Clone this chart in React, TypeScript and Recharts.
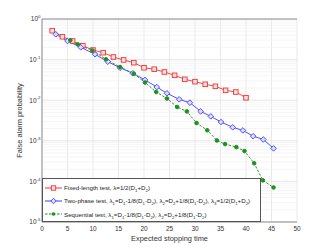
import React from "react";
import {
  CartesianGrid,
  Legend,
  Line,
  LineChart,
  ReferenceLine,
  XAxis,
  YAxis,
} from "recharts";

const fixedX = [2, 4, 6, 8, 10, 12, 14, 16, 18, 20, 22, 24, 26, 28, 30, 32, 34, 36, 38, 40];
const fixedP = [
  0.515, 0.366, 0.287, 0.22, 0.172, 0.148, 0.116, 0.098, 0.084, 0.063, 0.058, 0.0495, 0.041,
  0.0327, 0.0286, 0.0247, 0.022, 0.0175, 0.0159, 0.0115,
];

const twoPhaseX = [
  2.7, 5.0, 7.6, 10.4, 12.9, 15.3, 17.8, 20.2, 22.5, 24.5, 26.9, 29.0, 31.1, 33.1, 35.1, 37.4,
  39.4, 41.4, 43.4, 45.4,
];
const twoPhaseP = [
  0.42, 0.287, 0.201, 0.135, 0.0888, 0.063, 0.046, 0.0315, 0.0211, 0.0148, 0.0105, 0.0087,
  0.0053, 0.004, 0.0029, 0.00215, 0.0018, 0.0013, 0.00108, 0.00065,
];

const seqX = [
  5.55, 7.0, 9.9, 12.55, 15.3, 18.0, 20.2, 22.4, 24.5, 26.5, 28.4, 30.3, 32.4, 34.3, 35.9, 38.1,
  39.7, 41.6, 43.3, 45.4,
];
const seqP = [
  0.299, 0.238, 0.168, 0.1016, 0.0657, 0.045, 0.0273, 0.0159, 0.011, 0.0068, 0.0053, 0.00274,
  0.00182, 0.00102, 0.00083, 0.0007, 0.00056, 0.00028, 0.000106, 0.0000708,
];

const xTicks = [0, 5, 10, 15, 20, 25, 30, 35, 40, 45, 50];
const yTicks = [1e-5, 1e-4, 1e-3, 1e-2, 1e-1, 1];
const minorY = [-5, -4, -3, -2, -1].flatMap((e) =>
  [2, 3, 4, 5, 6, 7, 8, 9].map((k) => k * Math.pow(10, e))
);

const RED = "#f23333";
const BLUE = "#3c3cff";
const GREEN = "#1f8f1f";
const FONT = "'Liberation Sans', Arial, sans-serif";

const toRows = (xs: number[], ps: number[]) => xs.map((x, i) => ({ x, p: ps[i] }));

const SquareDot = (props: any) => {
  const { cx, cy, index } = props;
  if (cx == null || cy == null) return <g key={index} />;
  return (
    <rect key={index} x={cx - 2.3} y={cy - 2.3} width={4.6} height={4.6} fill="#fbdede" stroke={RED} strokeWidth={0.9} />
  );
};

const DiamondDot = (props: any) => {
  const { cx, cy, index } = props;
  if (cx == null || cy == null) return <g key={index} />;
  const r = 2.8;
  return (
    <path
      key={index}
      d={`M${cx},${cy - r}L${cx + r},${cy}L${cx},${cy + r}L${cx - r},${cy}Z`}
      fill="#dedeff"
      stroke={BLUE}
      strokeWidth={0.9}
    />
  );
};

const CircleDot = (props: any) => {
  const { cx, cy, index } = props;
  if (cx == null || cy == null) return <g key={index} />;
  return <circle key={index} cx={cx} cy={cy} r={1.8} fill={GREEN} stroke={GREEN} />;
};

const YTick = (props: any) => {
  const { x, y, payload } = props;
  const e = Math.round(Math.log10(payload.value));
  return (
    <text x={x - 1.5} y={y + 2.3} textAnchor="end" fontSize={6.5} fill="#333" fontFamily={FONT}>
      <tspan>10</tspan>
      <tspan dy={-3.2} fontSize={4.4}>
        {e}
      </tspan>
    </text>
  );
};

const XTick = (props: any) => {
  const { x, y, payload } = props;
  return (
    <text x={x} y={y + 8.6} textAnchor="middle" fontSize={6.5} fill="#333" fontFamily={FONT}>
      {payload.value}
    </text>
  );
};

const Sub = ({ c }: { c: string }) => (
  <sub style={{ fontSize: 4.3, verticalAlign: "-1.5px", lineHeight: 0 }}>{c}</sub>
);

const legendItems = [
  {
    color: RED,
    dash: "",
    marker: "square",
    text: (
      <>
        Fixed-length test, λ=1/2(D<Sub c="1" />+D<Sub c="2" />)
      </>
    ),
  },
  {
    color: BLUE,
    dash: "",
    marker: "diamond",
    text: (
      <>
        Two-phase test, λ<Sub c="1" />=D<Sub c="1" />-1/8(D<Sub c="1" />-D<Sub c="2" />), λ
        <Sub c="2" />=D<Sub c="2" />+1/8(D<Sub c="1" />-D<Sub c="2" />), λ<Sub c="3" />=1/2(D
        <Sub c="1" />+D<Sub c="2" />)
      </>
    ),
  },
  {
    color: GREEN,
    dash: "2.5 1.5",
    marker: "circle",
    text: (
      <>
        Sequential test, λ<Sub c="1" />=D<Sub c="1" />-1/8(D<Sub c="1" />-D<Sub c="2" />), λ
        <Sub c="2" />=D<Sub c="2" />+1/8(D<Sub c="1" />-D<Sub c="2" />)
      </>
    ),
  },
];

const LegendBox = () => (
  <div
    style={{
      width: 219,
      height: 44,
      boxSizing: "border-box",
      border: "0.8px solid #555",
      background: "#fff",
      fontFamily: FONT,
      fontSize: 6.2,
      color: "#222",
      paddingTop: 2,
      textAlign: "left",
    }}
  >
    {legendItems.map((it, i) => (
      <div key={i} style={{ display: "flex", alignItems: "center", height: 13.3, whiteSpace: "nowrap" }}>
        <svg width={19} height={8} style={{ marginLeft: 1, marginRight: 1, flex: "none" }}>
          <line x1={1} y1={4} x2={18} y2={4} stroke={it.color} strokeWidth={1} strokeDasharray={it.dash} />
          {it.marker === "square" && (
            <rect x={7.3} y={1.8} width={4.4} height={4.4} fill="#fbdede" stroke={it.color} strokeWidth={0.9} />
          )}
          {it.marker === "diamond" && (
            <path d="M9.5,1.3L12.2,4L9.5,6.7L6.8,4Z" fill="#dedeff" stroke={it.color} strokeWidth={0.9} />
          )}
          {it.marker === "circle" && <circle cx={9.5} cy={4} r={1.8} fill={it.color} />}
        </svg>
        <span>{it.text}</span>
      </div>
    ))}
  </div>
);

export default function App() {
  return (
    <div style={{ position: "absolute", left: 0, top: 0, width: 328, height: 249, background: "#fff" }}>
      <LineChart width={328} height={249} margin={{ top: 19, right: 31, bottom: 0, left: 0 }}>
        <CartesianGrid stroke="#e3e3e3" strokeWidth={0.8} horizontal={false} />
        {minorY.map((v) => (
          <ReferenceLine key={v} y={v} stroke="#f0f0f0" strokeWidth={0.7} />
        ))}
        {yTicks.map((v) => (
          <ReferenceLine key={"m" + v} y={v} stroke="#e0e0e0" strokeWidth={0.8} />
        ))}
        <ReferenceLine y={1} stroke="#777" strokeWidth={0.8} />
        <XAxis
          dataKey="x"
          type="number"
          domain={[0, 50]}
          ticks={xTicks}
          height={27}
          tick={<XTick />}
          tickLine={false}
          tickSize={0}
          tickMargin={0}
          axisLine={{ stroke: "#777", strokeWidth: 0.8 }}
          allowDataOverflow
          label={{
            content: () => (
              <text x={169.5} y={241} textAnchor="middle" fontSize={7.4} fill="#333" fontFamily={FONT}>
                Expected stopping time
              </text>
            ),
          }}
        />
        <YAxis
          type="number"
          scale="log"
          domain={[1e-5, 1]}
          ticks={yTicks}
          width={42}
          tick={<YTick />}
          tickLine={false}
          tickSize={0}
          tickMargin={0}
          axisLine={{ stroke: "#777", strokeWidth: 0.8 }}
          allowDataOverflow
          label={{
            content: () => (
              <text
                x={22}
                y={120.5}
                textAnchor="middle"
                fontSize={7.4}
                fill="#333"
                fontFamily={FONT}
                transform="rotate(-90, 22, 120.5)"
              >
                False alarm probability
              </text>
            ),
          }}
        />
        <YAxis
          yAxisId="r"
          orientation="right"
          type="number"
          scale="log"
          domain={[1e-5, 1]}
          ticks={[...yTicks, ...minorY]}
          width={0}
          mirror
          tickSize={2}
          tick={false}
          axisLine={{ stroke: "#777", strokeWidth: 0.8 }}
          allowDataOverflow
        />
        <Legend
          layout="horizontal"
          verticalAlign="middle"
          align="center"
          content={<LegendBox />}
          wrapperStyle={{ left: 42, top: 178, width: 219, height: 44 }}
        />
        <Line
          data={toRows(fixedX, fixedP)}
          dataKey="p"
          stroke={RED}
          strokeWidth={0.9}
          dot={SquareDot}
          isAnimationActive={false}
        />
        <Line
          data={toRows(twoPhaseX, twoPhaseP)}
          dataKey="p"
          stroke={BLUE}
          strokeWidth={0.9}
          dot={DiamondDot}
          isAnimationActive={false}
        />
        <Line
          data={toRows(seqX, seqP)}
          dataKey="p"
          stroke={GREEN}
          strokeWidth={0.9}
          strokeDasharray="2.5 1.5"
          dot={CircleDot}
          isAnimationActive={false}
        />
      </LineChart>
    </div>
  );
}
